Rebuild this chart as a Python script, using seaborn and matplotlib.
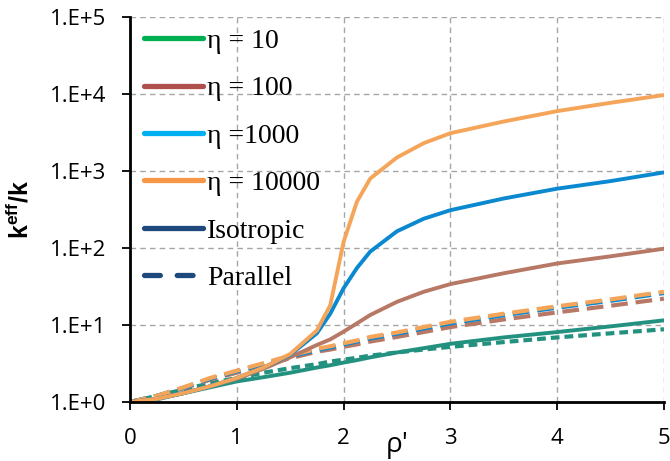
import matplotlib
matplotlib.use("Agg")
import matplotlib.pyplot as plt
import seaborn as sns
from matplotlib.lines import Line2D
from matplotlib.ticker import FixedLocator, FixedFormatter

# rho' sample points
rho = [0, 0.25, 0.5, 0.75, 1, 1.25, 1.5, 1.75, 1.875, 2, 2.125, 2.25, 2.5, 2.75, 3, 3.5, 4, 4.5, 5]

# isotropic curves
iso_10 = [1, 1.08, 1.3, 1.55, 1.85, 2.1, 2.4, 2.8, 3.0, 3.25, 3.5, 3.8, 4.4, 5.0, 5.7, 6.9, 8.1, 9.6, 11.5]
iso_100 = [1, 1.1, 1.3, 1.6, 2.0, 2.7, 3.8, 5.5, 6.5, 8.2, 10.5, 13.5, 20, 27, 34, 47, 63, 78, 98]
iso_1000 = [1, 1.1, 1.3, 1.6, 2.05, 2.8, 4.1, 7.8, 14, 30, 55, 90, 165, 240, 310, 440, 590, 740, 960]
iso_10000 = [1, 1.1, 1.3, 1.6, 2.05, 2.8, 4.2, 8.5, 18, 120, 400, 800, 1500, 2300, 3100, 4400, 6000, 7700, 9700]

# parallel curves
par_10 = [1, 1.2, 1.45, 1.75, 2.05, 2.4, 2.75, 3.1, 3.35, 3.55, 3.75, 4.0, 4.4, 4.8, 5.2, 6.0, 6.9, 7.8, 8.8]
par_100 = [1, 1.2, 1.5, 1.95, 2.4, 3.0, 3.7, 4.5, 4.8, 5.2, 5.6, 6.1, 7.0, 8.1, 9.4, 11.8, 14.6, 17.8, 22]
par_1000 = [1, 1.2, 1.53, 2.0, 2.5, 3.1, 3.9, 4.7, 5.1, 5.6, 6.1, 6.7, 7.7, 9.0, 10.5, 13.4, 16.8, 20.6, 26]
par_10000 = [1, 1.2, 1.55, 2.05, 2.55, 3.2, 4.0, 4.9, 5.3, 5.8, 6.3, 7.0, 8.0, 9.4, 11, 14, 17.5, 21.5, 27]

legend_labels = ["η = 10", "η = 100", "η =1000", "η = 10000", "Isotropic", "Parallel"]
y_ticks = [1, 10, 100, 1000, 10000, 100000]
y_ticklabels = ["1.E+0", "1.E+1", "1.E+2", "1.E+3", "1.E+4", "1.E+5"]

sns.set_theme(style="white", rc={"text.color": "black", "xtick.color": "black",
                                 "ytick.color": "black", "axes.labelcolor": "black"})
plt.rcParams["font.family"] = ["Open Sans", "DejaVu Sans"]
plt.rcParams["mathtext.fontset"] = "custom"
plt.rcParams["mathtext.rm"] = "Liberation Sans"
plt.rcParams["mathtext.bf"] = "Liberation Sans:bold"

fig, ax = plt.subplots(figsize=(6.7, 4.61), dpi=100)
fig.subplots_adjust(left=0.194, right=0.991, top=0.963, bottom=0.128)

teal = "#23917f"
brown = "#b87866"
blue = "#0a88d0"
orange = "#f5a55a"

# dashed (parallel) first
sns.lineplot(x=rho, y=par_10, ax=ax, color=teal, lw=3)
ax.lines[-1].set_dashes((2.1, 1.2))
for ys, c in [(par_100, brown), (par_1000, blue), (par_10000, orange)]:
    sns.lineplot(x=rho, y=ys, ax=ax, color=c, lw=3)
    ax.lines[-1].set_dashes((4, 1.9))

# solid (isotropic)
for ys, c in [(iso_10, teal), (iso_100, brown), (iso_1000, blue), (iso_10000, orange)]:
    sns.lineplot(x=rho, y=ys, ax=ax, color=c, lw=2.8)

ax.set_yscale("log")
ax.set_ylim(1, 1e5)
ax.set_xlim(0, 5)
ax.yaxis.set_major_locator(FixedLocator(y_ticks))
ax.yaxis.set_major_formatter(FixedFormatter(y_ticklabels))
ax.yaxis.set_minor_locator(FixedLocator([]))
ax.set_xticks([0, 1, 2, 3, 4, 5])
ax.tick_params(axis="both", labelsize=16, direction="out", length=6, width=1.3,
               color="black", left=True, bottom=True)
ax.tick_params(axis="x", pad=13)
ax.tick_params(axis="y", pad=11)
ax.grid(True, color="#a6a6a6", linestyle=(0, (4, 3)), lw=1)
for s in ["top", "right"]:
    ax.spines[s].set_visible(False)
for s in ["left", "bottom"]:
    ax.spines[s].set_color("black")
    ax.spines[s].set_linewidth(2)

ax.set_xlabel("ρ'", fontsize=20, va="top")
ax.xaxis.set_label_coords(0.5, -0.075)
ax.set_ylabel(r"$\mathbf{k^{eff}/k}$", fontsize=18)
ax.yaxis.set_label_coords(-0.178, 0.5)

handles = [
    Line2D([], [], color="#00b050", lw=3.8, solid_capstyle="round"),
    Line2D([], [], color="#b0504c", lw=3.8, solid_capstyle="round"),
    Line2D([], [], color="#00b0f0", lw=3.8, solid_capstyle="round"),
    Line2D([], [], color="#f79646", lw=3.8, solid_capstyle="round"),
    Line2D([], [], color="#1f497d", lw=3.8, solid_capstyle="round"),
    Line2D([], [], color="#1f497d", lw=3.8, dashes=(3, 3.2), dash_capstyle="round"),
]
leg = ax.legend(handles, legend_labels, loc="upper left", bbox_to_anchor=(-0.02, 1.035),
                frameon=False, handlelength=2.1, handletextpad=0.15, labelspacing=0.79,
                prop={"family": "Liberation Serif", "size": 20})

fig.savefig("out.png", dpi=100)
